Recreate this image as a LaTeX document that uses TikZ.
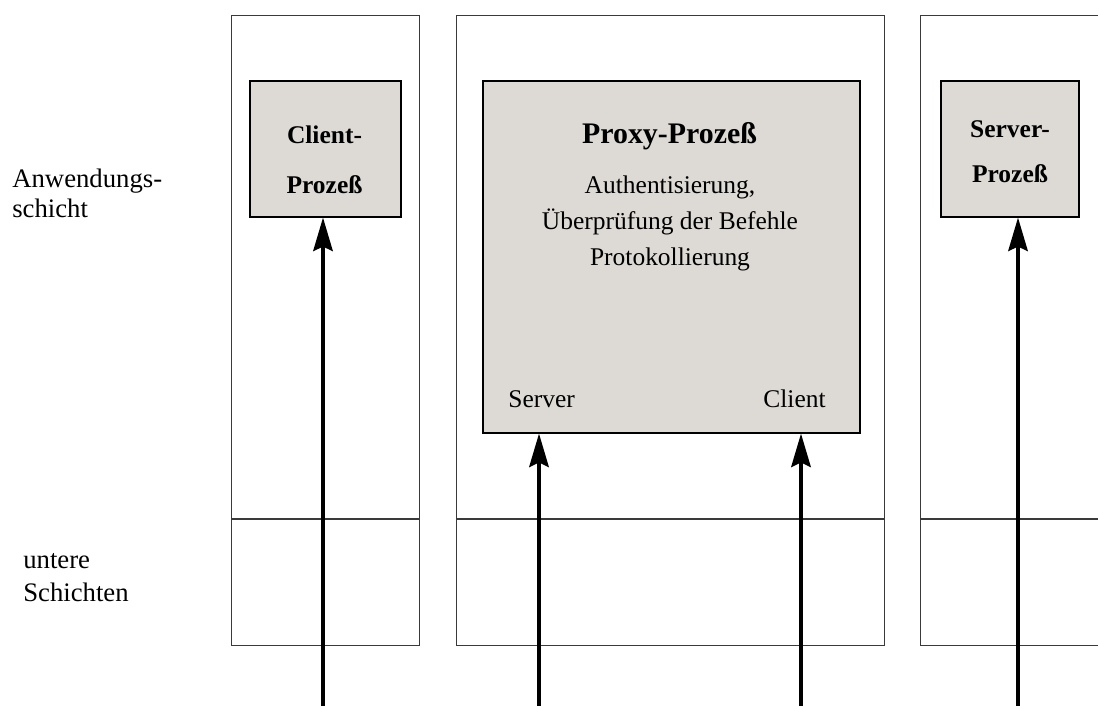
\documentclass[tikz,border=0pt]{standalone}
\usepackage{fontspec}
\setmainfont{Liberation Serif}
\usetikzlibrary{arrows.meta,positioning}
\definecolor{ink}{HTML}{000000}
\definecolor{framegray}{HTML}{3A3A3A}
\definecolor{procfill}{HTML}{DDDAD5}
\tikzset{
  layerbox/.style={draw=framegray, line width=0.6pt, fill=white, inner sep=0pt, anchor=north west, minimum height=12.6cm},
  procbox/.style={draw=ink, line width=0.9pt, fill=procfill, inner sep=0pt, anchor=north west},
  proclabel/.style={font=\fontsize{14.5}{28.4}\selectfont\bfseries, align=center, inner sep=0pt, anchor=north},
  sidelabel/.style={font=\fontsize{15.2}{17}\selectfont, align=left, inner sep=0pt, anchor=north west},
  tasktext/.style={font=\fontsize{14.5}{20.4}\selectfont, align=center, inner sep=0pt},
  flow/.style={-{Stealth[length=19pt,width=11pt,inset=2.5pt]}, line width=2.3pt, draw=ink}
}
\begin{document}
\begin{tikzpicture}[x=0.02cm, y=-0.02cm]
\useasboundingbox (0,0) rectangle (1098,706);
% layer columns
\node[layerbox, minimum width=3.76cm] (colL) at (231,15) {};
\node[layerbox, minimum width=8.56cm] (colM) at (456,15) {};
\node[layerbox, minimum width=3.8cm] (colR) at (920,15) {};
\foreach \c in {colL,colM,colR}
  \draw[draw=framegray, line width=0.6pt] (\c.west |- 0,519) -- (\c.east |- 0,519);
% layer names
\node[sidelabel] (app) at (12,168.5) {Anwendungs-\\schicht};
\node[sidelabel, font=\fontsize{15.2}{18.7}\selectfont] (lower) at (23,553) {untere\\Schichten};
% processes
\node[procbox, minimum width=3.02cm, minimum height=2.72cm] (client) at (249,80) {};
\node[procbox, minimum width=7.54cm, minimum height=7.04cm] (proxy) at (482,80) {};
\node[procbox, minimum width=2.76cm, minimum height=2.72cm] (server) at (940,80) {};
\node[proclabel] (clienttxt) at (324.5,125.5) {Client-\\Prozeß};
\node[proclabel, font=\fontsize{14.5}{25.5}\selectfont\bfseries] (servertxt) at (1010,120) {Server-\\Prozeß};
\node[proclabel, font=\fontsize{17}{20}\selectfont\bfseries, anchor=base] (proxytxt) at (669.5,143) {Proxy-Prozeß};
\node[tasktext, anchor=north] (tasks) at (670,175.5) {Authentisierung,\\Überprüfung der Befehle\\Protokollierung};
\node[tasktext, anchor=base west] (srvside) at (508,407) {Server};
\node[tasktext, anchor=base east] (cliside) at (826,407) {Client};
% connections from below
\coordinate (inL) at (323,706);
\coordinate (inS) at (539,706);
\coordinate (inC) at (801,706);
\coordinate (inR) at (1018,706);
\draw[flow] (inL) -- (inL |- client.south);
\draw[flow] (inS) -- (inS |- proxy.south);
\draw[flow] (inC) -- (inC |- proxy.south);
\draw[flow] (inR) -- (inR |- server.south);
\end{tikzpicture}
\end{document}
